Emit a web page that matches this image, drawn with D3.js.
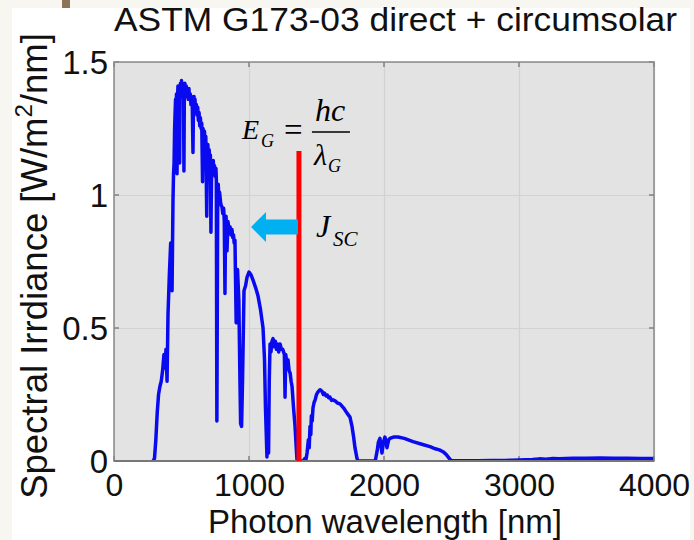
<!DOCTYPE html>
<html>
<head>
<meta charset="utf-8">
<script src="https://cdn.jsdelivr.net/npm/d3@7"></script>
<style>
  html, body { margin: 0; padding: 0; background: #f7f6f1; }
  svg { display: block; }
</style>
</head>
<body>
<svg id="chart" width="694" height="540"></svg>
<script>
// ---- Data ----
const title = "ASTM G173-03 direct + circumsolar";
const xLabel = "Photon wavelength [nm]";
const xTicks = [0, 1000, 2000, 3000, 4000];
const yTicks = [0, 0.5, 1, 1.5];
const yTickLabels = ["0", "0.5", "1", "1.5"];

const wavelength = [
  280, 290, 300, 310, 320, 330, 340, 350, 360, 370, 378, 385, 393, 400, 410, 420, 430, 437,
  441, 445, 449, 452, 456, 460, 463, 467, 470, 474, 477, 480, 483, 486, 489, 492, 496, 500,
  504, 507, 511, 515, 518, 521, 525, 530, 535, 540, 545, 550, 555, 560, 565, 570, 575, 580,
  585, 589, 593, 597, 600, 605, 610, 615, 620, 625, 630, 635, 640, 645, 650, 656, 660, 665,
  670, 675, 680, 687, 691, 695, 700, 705, 710, 714, 718, 722, 726, 730, 735, 740, 745, 750,
  755, 758, 762, 765, 768, 772, 777, 782, 790, 795, 800, 806, 812, 817, 822, 826, 830, 837,
  844, 852, 860, 867, 874, 880, 885, 890, 896, 905, 915, 925, 933, 938, 945, 952, 963, 975,
  985, 1000, 1015, 1030, 1050, 1067, 1085, 1104, 1115, 1122, 1133, 1138, 1145, 1150, 1156, 1163,
  1170, 1178, 1186, 1195, 1203, 1210, 1220, 1230, 1240, 1250, 1262, 1267, 1272, 1280, 1289, 1297,
  1305, 1312, 1319, 1330, 1341, 1350, 1356, 1400, 1415, 1422, 1430, 1436, 1440, 1446, 1452, 1458,
  1462, 1468, 1474, 1482, 1490, 1500, 1511, 1526, 1541, 1550, 1560, 1570, 1580, 1590, 1600, 1611,
  1622, 1640, 1655, 1674, 1700, 1726, 1748, 1763, 1775, 1785, 1800, 1807, 1935, 1950, 1958, 1970,
  1985, 1995, 2007, 2022, 2035, 2044, 2070, 2104, 2150, 2215, 2280, 2341, 2380, 2410, 2437, 2460,
  2489, 2500, 2600, 2700, 2800, 2900, 2950, 3000, 3050, 3100, 3150, 3200, 3250, 3300, 3350, 3400,
  3500, 3600, 3700, 3800, 3900, 4000
];
const irradiance = [
  0, 0, 0.01, 0.08, 0.18, 0.25, 0.28, 0.30, 0.34, 0.40, 0.35, 0.42, 0.30, 0.55, 0.70, 0.82, 0.64, 0.98,
  1.08, 1.12, 1.25, 1.30, 1.36, 1.33, 1.38, 1.08, 1.36, 1.41, 1.37, 1.40, 1.38, 1.12, 1.39, 1.42, 1.38, 1.43,
  1.40, 1.42, 1.37, 1.40, 1.09, 1.38, 1.42, 1.38, 1.41, 1.37, 1.39, 1.36, 1.40, 1.36, 1.38, 1.34, 1.37, 1.33,
  1.16, 1.35, 1.37, 1.33, 1.36, 1.31, 1.34, 1.30, 1.33, 1.28, 1.31, 1.26, 1.29, 1.25, 1.27, 1.05, 1.25, 1.21,
  1.24, 1.19, 1.22, 0.92, 1.15, 1.19, 1.14, 1.17, 1.12, 1.15, 0.86, 1.05, 1.12, 1.09, 1.13, 1.09, 1.11, 1.07,
  1.10, 1.06, 0.15, 0.55, 0.98, 1.04, 0.99, 1.01, 0.97, 0.96, 0.955, 0.93, 0.95, 0.90, 0.63, 0.88, 0.92, 0.79,
  0.90, 0.87, 0.88, 0.85, 0.87, 0.84, 0.85, 0.82, 0.83, 0.52, 0.72, 0.60, 0.30, 0.14, 0.13, 0.30, 0.64, 0.66,
  0.69, 0.71, 0.70, 0.68, 0.65, 0.62, 0.57, 0.50, 0.38, 0.20, 0.015, 0.10, 0.03, 0.30, 0.44, 0.41,
  0.45, 0.46, 0.43, 0.45, 0.42, 0.44, 0.41, 0.44, 0.42, 0.42, 0.40, 0.24, 0.40, 0.37, 0.38, 0.34,
  0.33, 0.30, 0.28, 0.20, 0.13, 0.05, 0.0, 0.0, 0.01, 0.005, 0.03, 0.06, 0.08, 0.05, 0.13, 0.10,
  0.17, 0.15, 0.20, 0.22, 0.23, 0.25, 0.26, 0.268, 0.262, 0.250, 0.255, 0.245, 0.248, 0.238, 0.24, 0.228,
  0.23, 0.225, 0.218, 0.215, 0.20, 0.18, 0.165, 0.13, 0.09, 0.05, 0.01, 0, 0, 0.04, 0.07, 0.085,
  0.03, 0.07, 0.09, 0.05, 0.08, 0.085, 0.09, 0.09, 0.085, 0.073, 0.063, 0.054, 0.046, 0.042, 0.035, 0.025,
  0.006, 0.002, 0.001, 0.001, 0.002, 0.002, 0.003, 0.004, 0.005, 0.006, 0.008, 0.007, 0.009, 0.008, 0.009, 0.010,
  0.010, 0.011, 0.010, 0.010, 0.009, 0.009
];

// Annotations (data units)
const bandgapNm = 1370;
const bandgapTop = 1.165;
const arrowY = 0.88;
const arrowTipNm = 1015;
const arrowHeadBaseNm = 1126;

// ---- Layout ----
const svg = d3.select("#chart");
const W = 694, H = 540;
const plot = { left: 114, right: 654, top: 62, bottom: 461 };

// page background pieces
svg.append("rect").attr("x", 0).attr("y", 0).attr("width", W).attr("height", H).attr("fill", "#f7f6f1");
svg.append("rect").attr("x", 12).attr("y", 8).attr("width", 678).attr("height", H - 8).attr("fill", "#ffffff");
svg.append("rect").attr("x", 62).attr("y", 0).attr("width", 8).attr("height", 8).attr("fill", "#8c7456");

const x = d3.scaleLinear().domain([0, 4000]).range([plot.left, plot.right]);
const y = d3.scaleLinear().domain([0, 1.5]).range([plot.bottom, plot.top]);

// plot background
svg.append("rect")
  .attr("x", plot.left).attr("y", plot.top)
  .attr("width", plot.right - plot.left).attr("height", plot.bottom - plot.top)
  .attr("fill", "#e3e3e3");

// gridlines
const gx = svg.append("g").attr("transform", `translate(0,${plot.bottom})`)
  .call(d3.axisBottom(x).tickValues(xTicks).tickSize(-(plot.bottom - plot.top)).tickFormat(""));
gx.select(".domain").remove();
gx.selectAll("line").attr("stroke", "#d2d2d2").attr("stroke-width", 1.2);
const gy = svg.append("g").attr("transform", `translate(${plot.left},0)`)
  .call(d3.axisLeft(y).tickValues(yTicks).tickSize(-(plot.right - plot.left)).tickFormat(""));
gy.select(".domain").remove();
gy.selectAll("line").attr("stroke", "#d2d2d2").attr("stroke-width", 1.2);

// inner tick marks (MATLAB box style)
const tickLen = 5;
const tickCol = "#808080";
xTicks.forEach(v => {
  svg.append("line").attr("x1", x(v)).attr("x2", x(v)).attr("y1", plot.bottom).attr("y2", plot.bottom - tickLen).attr("stroke", tickCol).attr("stroke-width", 1.5);
  svg.append("line").attr("x1", x(v)).attr("x2", x(v)).attr("y1", plot.top).attr("y2", plot.top + tickLen).attr("stroke", tickCol).attr("stroke-width", 1.5);
});
yTicks.forEach(v => {
  svg.append("line").attr("x1", plot.left).attr("x2", plot.left + tickLen).attr("y1", y(v)).attr("y2", y(v)).attr("stroke", tickCol).attr("stroke-width", 1.5);
  svg.append("line").attr("x1", plot.right).attr("x2", plot.right - tickLen).attr("y1", y(v)).attr("y2", y(v)).attr("stroke", tickCol).attr("stroke-width", 1.5);
});

// spectrum line
const clipId = "plotclip";
svg.append("clipPath").attr("id", clipId).append("rect")
  .attr("x", plot.left).attr("y", plot.top - 2)
  .attr("width", plot.right - plot.left).attr("height", plot.bottom - plot.top + 2);
const pts = wavelength.map((w, i) => [w, irradiance[i]]);
svg.append("path")
  .attr("clip-path", `url(#${clipId})`)
  .attr("d", d3.line().x(d => x(d[0])).y(d => y(d[1]))(pts))
  .attr("fill", "none")
  .attr("stroke", "#0a0af0")
  .attr("stroke-width", 3.5)
  .attr("stroke-linejoin", "round");

// frame
svg.append("rect")
  .attr("x", plot.left).attr("y", plot.top)
  .attr("width", plot.right - plot.left).attr("height", plot.bottom - plot.top)
  .attr("fill", "none").attr("stroke", "#8a8a8a").attr("stroke-width", 1.5);
svg.append("line").attr("x1", plot.left).attr("x2", plot.right).attr("y1", plot.bottom).attr("y2", plot.bottom)
  .attr("stroke", "#777").attr("stroke-width", 2);

// tick labels
const sans = "'Liberation Sans', Arial, sans-serif";
const xl = svg.append("g").attr("transform", `translate(0,${plot.bottom})`)
  .call(d3.axisBottom(x).tickValues(xTicks).tickSize(0).tickPadding(0).tickFormat(d3.format("d")));
xl.select(".domain").remove();
xl.selectAll("text").attr("y", 35).attr("dy", 0).attr("font-family", sans).attr("font-size", 32).attr("fill", "#111");

const yl = svg.append("g").attr("transform", `translate(${plot.left},0)`)
  .call(d3.axisLeft(y).tickValues(yTicks).tickSize(0).tickPadding(0).tickFormat((d, i) => yTickLabels[i]));
yl.select(".domain").remove();
yl.selectAll("text").attr("x", -6).attr("dy", "0.36em").attr("font-family", sans).attr("font-size", 33).attr("fill", "#111");

// title
svg.append("text").attr("x", (113 + 678) / 2).attr("y", 31).attr("text-anchor", "middle")
  .attr("font-family", sans).attr("font-size", 34).attr("fill", "#111")
  .attr("textLength", 563).attr("lengthAdjust", "spacingAndGlyphs").text(title);

// x label
svg.append("text").attr("x", (plot.left + plot.right) / 2 + 1).attr("y", 533).attr("text-anchor", "middle")
  .attr("font-family", sans).attr("font-size", 33).attr("fill", "#111").text(xLabel);

// y label with superscript
const ylab = svg.append("text").attr("transform", `translate(47,266) rotate(-90)`).attr("text-anchor", "middle")
  .attr("font-family", sans).attr("font-size", 36.5).attr("fill", "#111");
ylab.append("tspan").text("Spectral Irrdiance [W/m");
ylab.append("tspan").attr("font-size", 24).attr("dy", -15).text("2");
ylab.append("tspan").attr("dy", 15).text("/nm]");

// bandgap red line
svg.append("line")
  .attr("x1", x(bandgapNm)).attr("x2", x(bandgapNm))
  .attr("y1", y(bandgapTop)).attr("y2", y(0))
  .attr("stroke", "#ff0000").attr("stroke-width", 5);

// Jsc arrow
const ay = y(arrowY), tipX = x(arrowTipNm), baseX = x(arrowHeadBaseNm), endX = x(bandgapNm) - 1;
const arrowPts = [[tipX, ay], [baseX, ay - 15], [baseX, ay - 7.5], [endX, ay - 7.5], [endX, ay + 7.5], [baseX, ay + 7.5], [baseX, ay + 15]];
svg.append("polygon").attr("points", arrowPts.map(p => p.join(",")).join(" ")).attr("fill", "#00b0f0");

// equation E_G = hc / lambda_G
const serif = "'Liberation Serif', 'Times New Roman', serif";
const lx = x(bandgapNm);
const eq = svg.append("g").attr("font-family", serif).attr("fill", "#000");
eq.append("text").attr("x", lx - 57).attr("y", 139).attr("font-size", 28).attr("font-style", "italic").text("E");
eq.append("text").attr("x", lx - 38).attr("y", 147).attr("font-size", 18).attr("font-style", "italic").text("G");
eq.append("text").attr("x", lx - 15).attr("y", 141).attr("font-size", 33).text("=");
eq.append("text").attr("x", lx + 16).attr("y", 121).attr("font-size", 32).attr("font-style", "italic").text("hc");
eq.append("line").attr("x1", lx + 13).attr("x2", lx + 51).attr("y1", 132).attr("y2", 132).attr("stroke", "#000").attr("stroke-width", 1.5);
eq.append("text").attr("x", lx + 15).attr("y", 165).attr("font-size", 30).attr("font-style", "italic").text("λ");
eq.append("text").attr("x", lx + 29).attr("y", 172).attr("font-size", 18).attr("font-style", "italic").text("G");
// J_SC
eq.append("text").attr("x", lx + 17).attr("y", 237).attr("font-size", 32).attr("font-style", "italic").text("J");
eq.append("text").attr("x", lx + 34).attr("y", 246).attr("font-size", 21).attr("font-style", "italic").text("SC");
</script>
</body>
</html>
